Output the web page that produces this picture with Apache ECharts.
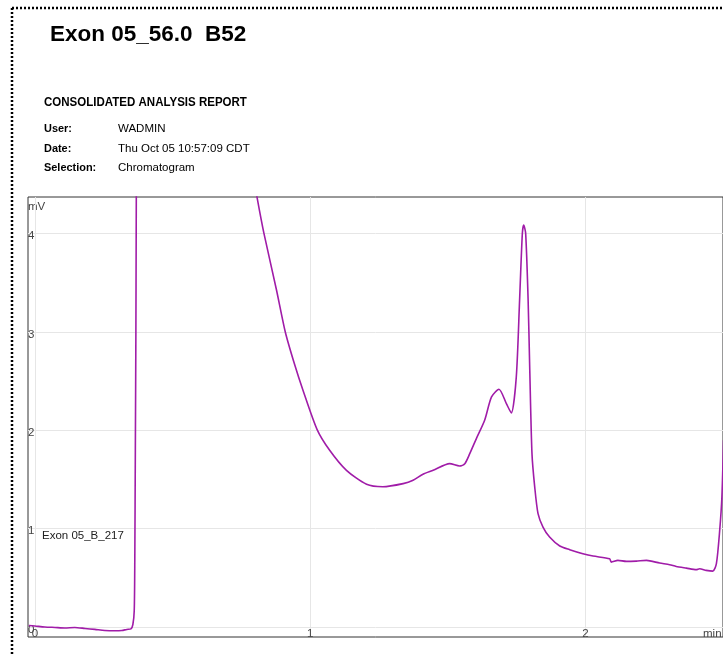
<!DOCTYPE html>
<html>
<head>
<meta charset="utf-8">
<title>Exon 05_56.0 B52</title>
<script src="https://cdn.jsdelivr.net/npm/echarts@6/dist/echarts.min.js"></script>
<style>
  html, body { margin: 0; padding: 0; background: #fff; }
  #chart { width: 723px; height: 654px; }
</style>
</head>
<body>
<div id="chart"></div>
<script>
// Retention time (min) and detector signal (mV) of the chromatogram trace
const timeMin = [
  -0.022, 0.000, 0.036, 0.073, 0.109, 0.145, 0.182, 0.218, 0.254, 0.291,
  0.316, 0.334, 0.349, 0.356, 0.361, 0.363, 0.365, 0.367, 0.368, 0.369,
  0.372, 0.380, 0.400, 0.450, 0.520, 0.600, 0.680, 0.750, 0.780,
  0.807, 0.832, 0.878, 0.910, 0.944, 0.974, 1.025, 1.071, 1.132, 1.205,
  1.264, 1.338, 1.374, 1.410, 1.447, 1.507, 1.543, 1.562, 1.580, 1.604,
  1.634, 1.659, 1.686, 1.713, 1.731, 1.749, 1.761, 1.771, 1.776, 1.783,
  1.792, 1.798, 1.806, 1.816, 1.828, 1.846, 1.870, 1.907, 1.943, 1.991,
  2.028, 2.088, 2.094, 2.118, 2.149, 2.185, 2.222, 2.270, 2.306, 2.330,
  2.367, 2.403, 2.415, 2.439, 2.463, 2.476, 2.488, 2.496, 2.502
];
const signalMv = [
  0.017, 0.012, 0.002, -0.003, -0.008, -0.003, -0.013, -0.023, -0.034, -0.037,
  -0.034, -0.023, -0.018, 0.027, 0.170, 0.678, 1.797, 3.017, 3.932, 4.847,
  7.5, 11.0, 14.5, 17.0, 16.0, 12.0, 8.2, 5.3, 4.8,
  4.369, 4.003, 3.423, 2.996, 2.665, 2.407, 2.010, 1.797, 1.593, 1.451,
  1.426, 1.458, 1.492, 1.553, 1.593, 1.661, 1.637, 1.661, 1.763, 1.916,
  2.102, 2.339, 2.417, 2.271, 2.176, 2.542, 3.322, 4.000, 4.084, 4.003,
  3.322, 2.610, 1.763, 1.423, 1.153, 1.017, 0.915, 0.824, 0.787, 0.746,
  0.722, 0.695, 0.661, 0.678, 0.668, 0.671, 0.678, 0.651, 0.634, 0.617,
  0.600, 0.584, 0.594, 0.577, 0.569, 0.645, 0.983, 1.322, 1.898
];
const xTicks = [0, 1, 2];
const yTicks = [0, 1, 2, 3, 4];

const traceName = 'Exon 05_B_217';
const reportTitle = 'Exon 05_56.0  B52';
const reportHeading = 'CONSOLIDATED ANALYSIS REPORT';
const infoLabels = ['User:', 'Date:', 'Selection:'];
const infoValues = ['WADMIN', 'Thu Oct 05 10:57:09 CDT', 'Chromatogram'];

const trace = timeMin.map((t, i) => [t, signalMv[i]]);

const SANS = '"Liberation Sans", Arial, sans-serif';

const infoGraphics = [];
infoLabels.forEach((lab, i) => {
  const y = 129 + i * 19.5;
  infoGraphics.push({
    type: 'text', x: 44, y: y, scaleX: 0.95,
    style: { text: lab, font: 'bold 11.5px ' + SANS, fill: '#000', textVerticalAlign: 'middle' }
  });
  infoGraphics.push({
    type: 'text', x: 118, y: y,
    style: { text: infoValues[i], font: '11.5px ' + SANS, fill: '#000', textVerticalAlign: 'middle' }
  });
});

const chart = echarts.init(document.getElementById('chart'), null, { renderer: 'canvas' });

chart.setOption({
  animation: false,
  backgroundColor: '#fff',
  grid: {
    left: 28, top: 197, right: 0, bottom: 17,
    show: true, borderColor: '#333', borderWidth: 1, backgroundColor: 'transparent'
  },
  xAxis: {
    type: 'value',
    min: -0.025, max: 2.5,
    axisLine: { show: false },
    axisTick: { show: false, customValues: xTicks },
    axisLabel: {
      customValues: xTicks,
      inside: true, margin: -3,
      color: '#444', fontSize: 11.5, fontFamily: SANS,
      verticalAlign: 'bottom'
    },
    splitLine: { show: true, lineStyle: { color: '#e6e6e6', width: 1 } }
  },
  yAxis: {
    type: 'value',
    min: -0.1, max: 4.37,
    axisLine: { show: false },
    axisTick: { show: false, customValues: yTicks },
    axisLabel: {
      customValues: yTicks,
      inside: true, margin: 0,
      color: '#444', fontSize: 11.5, fontFamily: SANS,
      align: 'left', verticalAlign: 'top',
      lineHeight: 5
    },
    splitLine: { show: true, lineStyle: { color: '#e6e6e6', width: 1 } }
  },
  series: [{
    name: traceName,
    type: 'line',
    data: trace,
    showSymbol: false,
    clip: true,
    smooth: 0.25,
    lineStyle: { color: '#a01ca8', width: 1.6 },
    itemStyle: { color: '#a01ca8' }
  }],
  graphic: [
    // dotted page frame
    { type: 'line', shape: { x1: 12, y1: 8, x2: 12, y2: 654 },
      style: { stroke: '#000', lineWidth: 2.5, lineDash: [2, 2] } },
    { type: 'line', shape: { x1: 12, y1: 8, x2: 723, y2: 8 },
      style: { stroke: '#000', lineWidth: 2.5, lineDash: [2, 2] } },
    { type: 'text', x: 50, y: 35,
      style: { text: reportTitle, font: 'bold 22.5px ' + SANS, fill: '#000', textVerticalAlign: 'middle' } },
    { type: 'text', x: 44, y: 103, scaleX: 0.96,
      style: { text: reportHeading, font: 'bold 12px ' + SANS, fill: '#000', textVerticalAlign: 'middle' } },
    ...infoGraphics,
    { type: 'text', x: 28, y: 207,
      style: { text: 'mV', font: '11.5px ' + SANS, fill: '#444', textVerticalAlign: 'middle' } },
    { type: 'text', x: 703, y: 634,
      style: { text: 'min', font: '11.5px ' + SANS, fill: '#444', textVerticalAlign: 'middle' } },
    { type: 'text', x: 42, y: 536,
      style: { text: traceName, font: '11.5px ' + SANS, fill: '#222', textVerticalAlign: 'middle' } }
  ]
});
</script>
</body>
</html>
